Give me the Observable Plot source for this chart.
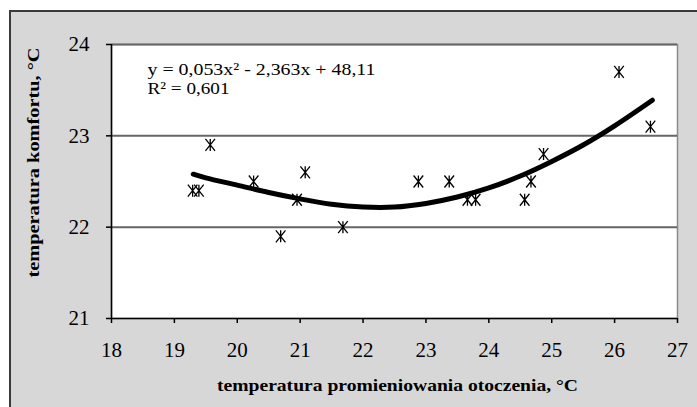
<!DOCTYPE html>
<html><head><meta charset="utf-8">
<script src="https://cdn.jsdelivr.net/npm/d3@7"></script>
<script src="https://cdn.jsdelivr.net/npm/@observablehq/plot@0.6"></script>
<style>
html,body{margin:0;padding:0;background:#fff;}
#wrap{position:relative;width:697px;height:407px;overflow:hidden;}
#bg{position:absolute;left:9px;top:10px;width:700px;height:410px;border:2px solid #3a3a3a;background:#d7d7d7;}
#chart{position:absolute;left:0;top:0;}
</style></head><body>
<div id="wrap"><div id="bg"></div><div id="chart"></div></div>
<script>
// measured points
const radiantTemp = [19.29, 19.39, 19.57, 20.26, 20.69, 20.95, 21.08, 21.68, 22.88, 23.37, 23.66, 23.79, 24.57, 24.67, 24.87, 26.07, 26.57];
const comfortTemp = [22.4, 22.4, 22.9, 22.5, 21.9, 22.3, 22.6, 22.0, 22.5, 22.5, 22.3, 22.3, 22.3, 22.5, 22.8, 23.7, 23.1];
// trend line
const trendX = [19.3, 19.5, 20, 20.5, 21, 21.5, 22, 22.5, 23, 23.5, 24, 24.5, 25, 25.5, 26, 26.6];
const trendY = [22.58, 22.54, 22.46, 22.38, 22.31, 22.25, 22.22, 22.22, 22.26, 22.33, 22.43, 22.56, 22.72, 22.90, 23.11, 23.39];
const xTicks = [18, 19, 20, 21, 22, 23, 24, 25, 26, 27];
const yTicks = [21, 22, 23, 24];
const gridValues = [22, 23, 24];
const equationLine1 = "y = 0,053x² - 2,363x + 48,11";
const equationLine2 = "R² = 0,601";
const xLabel = "temperatura promieniowania otoczenia, °C";
const yLabel = "temperatura komfortu, °C";

const points = radiantTemp.map((x, i) => ({x, y: comfortTemp[i]}));
const trend = trendX.map((x, i) => ({x, y: trendY[i]}));

const star = {
  draw(ctx, size) {
    const r = Math.sqrt(size / Math.PI);
    const w = r * 0.8;
    ctx.moveTo(0, -r); ctx.lineTo(0, r);
    ctx.moveTo(-w, -r); ctx.lineTo(w, r);
    ctx.moveTo(-w, r); ctx.lineTo(w, -r);
  }
};

const svg = Plot.plot({
  width: 697,
  height: 407,
  marginLeft: 111,
  marginRight: 20,
  marginTop: 44,
  marginBottom: 89,
  style: {fontFamily: "'Liberation Serif', 'Times New Roman', serif", background: "transparent", color: "black"},
  x: {domain: [18, 27]},
  y: {domain: [21, 24]},
  marks: [
    Plot.frame({fill: "white", stroke: "#8a8a8a", strokeWidth: 1.5}),
    Plot.ruleY(gridValues, {stroke: "#666", strokeWidth: 2}),
    Plot.ruleX([18], {stroke: "black", strokeWidth: 1.5}),
    Plot.ruleY([21], {stroke: "black", strokeWidth: 1.5}),
    Plot.axisX(xTicks, {tickSize: 5, tickPadding: 19, fontSize: 21, label: null, strokeWidth: 1.5, tickFormat: (d) => String(d)}),
    Plot.axisY(yTicks, {tickSize: 5, tickPadding: 17, fontSize: 21, label: null, strokeWidth: 1.5, tickFormat: (d) => String(d)}),
    Plot.line(trend, {x: "x", y: "y", curve: "catmull-rom", stroke: "black", strokeWidth: 5}),
    Plot.dot(points, {x: "x", y: "y", symbol: star, r: 6, fill: "none", stroke: "black", strokeWidth: 1.3}),
    Plot.text([equationLine1], {frameAnchor: "top-left", dx: 36, dy: 18, textAnchor: "start", lineAnchor: "top", fontSize: 17}),
    Plot.text([equationLine2], {frameAnchor: "top-left", dx: 36, dy: 37, textAnchor: "start", lineAnchor: "top", fontSize: 17}),
    Plot.text([xLabel], {frameAnchor: "bottom", dx: 3, dy: 67, lineAnchor: "middle", textAnchor: "middle", fontSize: 17, fontWeight: "bold"}),
    Plot.text([yLabel], {frameAnchor: "left", dx: -78, dy: -19, lineAnchor: "middle", textAnchor: "middle", rotate: -90, fontSize: 17, fontWeight: "bold"})
  ]
});

d3.select(svg).selectAll("text").each(function() {
  const t = this.textContent;
  const sel = d3.select(this);
  if (t === xLabel) sel.attr("textLength", 361).attr("lengthAdjust", "spacingAndGlyphs");
  if (t === yLabel) sel.attr("textLength", 230).attr("lengthAdjust", "spacingAndGlyphs");
  if (t === equationLine1) sel.attr("textLength", 228).attr("lengthAdjust", "spacingAndGlyphs");
  if (t === equationLine2) sel.attr("textLength", 82).attr("lengthAdjust", "spacingAndGlyphs");
});

document.getElementById("chart").appendChild(svg);
</script>
</body></html>
